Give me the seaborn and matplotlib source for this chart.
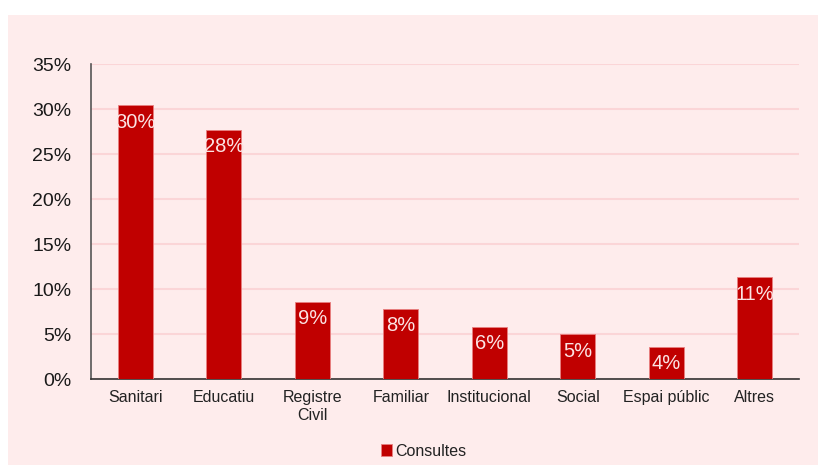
import matplotlib
matplotlib.use("Agg")
import matplotlib.pyplot as plt
import seaborn as sns
import pandas as pd
from matplotlib.patches import Rectangle

categories = ["Sanitari", "Educatiu", "Registre\nCivil", "Familiar", "Institucional",
              "Social", "Espai públic", "Altres"]
values = [30.4, 27.7, 8.6, 7.8, 5.8, 5.0, 3.6, 11.3]
series_name = "Consultes"
yticks = [0, 5, 10, 15, 20, 25, 30, 35]

sns.set_theme(style="white")
plt.rcParams["font.family"] = ["Liberation Sans", "DejaVu Sans"]

bg = "#feecec"
bar_color = "#c00000"

fig = plt.figure(figsize=(8.18, 4.65), dpi=100)
fig.patch.set_facecolor("white")
fig.patches.append(Rectangle((8 / 818, 0), 1 - 8 / 818, 1 - 15 / 465,
                             transform=fig.transFigure, facecolor=bg,
                             edgecolor="none", zorder=-10))

ax = fig.add_axes([91 / 818, 1 - 379 / 465, (799 - 91) / 818, (379 - 64) / 465])
ax.set_facecolor(bg)

df = pd.DataFrame({"cat": categories, "val": values, "serie": series_name})
sns.barplot(data=df, x="cat", y="val", hue="serie", palette=[bar_color],
            saturation=1, width=0.40, ax=ax, legend=True, zorder=3,
            edgecolor="#e88080", linewidth=0.6)

ax.set_xlim(-0.5, len(categories) - 0.5)
ax.set_ylim(0, 35)
ax.set_yticks(yticks)
ax.set_yticklabels([f"{t}%" for t in yticks], fontsize=14, color="#1a1a1a")
ax.tick_params(axis="x", labelsize=11.5, colors="#222222", length=0, pad=8)
ax.tick_params(axis="y", length=0, pad=14)
ax.set_xlabel("")
ax.set_ylabel("")

ax.yaxis.grid(True, color="#fbd5d7", linewidth=1.5, zorder=0)
ax.xaxis.grid(False)
for s in ["top", "right"]:
    ax.spines[s].set_visible(False)
ax.spines["left"].set_color("#555555")
ax.spines["left"].set_linewidth(1.2)
ax.spines["bottom"].set_color("#333333")
ax.spines["bottom"].set_linewidth(1.2)

for i, v in enumerate(values):
    ax.annotate(f"{v:.0f}%", (i, v), xytext=(0, -5.5), textcoords="offset points",
                ha="center", va="top", fontsize=14.5, color="#fbe3e3", zorder=5)

leg = ax.legend(loc="upper center", bbox_to_anchor=(0.47, -0.185), frameon=False,
                fontsize=11.5, handlelength=0.7, handleheight=0.7, handletextpad=0.2,
                borderaxespad=0)
for t in leg.get_texts():
    t.set_color("#222222")

fig.savefig("out.png", dpi=100, facecolor=fig.get_facecolor())
